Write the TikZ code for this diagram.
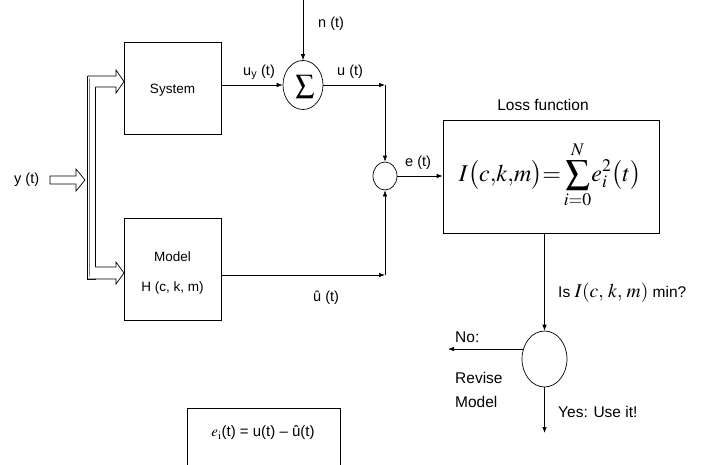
\documentclass[tikz,border=0pt]{standalone}
\usepackage{mathptmx}
\usepackage{amsmath}
\usepackage[no-math]{fontspec}
\setmainfont{Liberation Sans}
\usetikzlibrary{arrows.meta,shapes.geometric}
\tikzset{
  arr/.style={-{Latex[length=6pt,width=4.5pt]}, line width=0.7pt},
  ln/.style={line width=0.7pt},
  blk/.style={draw, line width=0.7pt, rectangle, inner sep=0pt},
  ell/.style={draw, line width=0.7pt, ellipse, inner sep=0pt},
  hollow/.style={draw, line width=0.7pt, fill=white},
  lbl/.style={font=\fontsize{14.5}{16}\selectfont, inner sep=0pt, anchor=west},
  rlbl/.style={font=\fontsize{15.5}{17}\selectfont, inner sep=0pt, anchor=west},
  btxt/.style={font=\fontsize{13.5}{15}\selectfont, inner sep=0pt},
}
\begin{document}
\begin{tikzpicture}[x=1pt,y=-1pt]
\clip (0,0) rectangle (705,464);
\fill[white] (0,0) rectangle (705,464);

% blocks
\node[blk, minimum width=97pt, minimum height=92pt] (sys) at (172.5,88) {};
\node[btxt] (systxt) at (172.5,90) {System};
\node[blk, minimum width=97pt, minimum height=102pt] (mod) at (172.5,269) {};
\node[btxt] (modtxt1) at (172.5,257) {Model};
\node[btxt] (modtxt2) at (172.5,288) {H (c, k, m)};

% distribution bar
\node[blk, fill=white, minimum width=8pt, minimum height=203pt] (bar) at (91.5,177.5) {};
\draw[gray, line width=1pt] (89.5,77) -- (89.5,278);

% hollow arrows
\draw[hollow] (88,76) -- (116,76) -- (116,70) -- (124,81.5) -- (116,93) -- (116,87) -- (95.5,87);
\draw[hollow] (95.5,267) -- (116,267) -- (116,262) -- (124,273) -- (116,284) -- (116,279) -- (88,279);
\draw[hollow] (50,176) -- (76,176) -- (76,169) -- (85,180) -- (76,191) -- (76,184) -- (50,184) -- cycle;
\node[lbl] (ylbl) at (14,180) {y (t)};

% sum junction
\node[ell, minimum width=40pt, minimum height=49pt] (sum) at (303,85) {};
\node[inner sep=0pt] (sumsym) at (305,87) {\fontsize{27}{30}\selectfont$\sum$};
\coordinate (ntop) at (303,0);
\draw[arr] (ntop) -- (sum.north);
\node[lbl] (nlbl) at (318,24) {n (t)};
\draw[arr] (sys.east |- sum) -- (sum.west);
\node[lbl] (uylbl) at (243,72) {u\textsubscript{y} (t)};

% comparison junction
\node[ell, minimum width=24pt, minimum height=28pt] (cmp) at (385,176) {};
\coordinate (ujn) at (385,85);
\coordinate (uhjn) at (385,275);
\draw[arr] (sum.east) -- (ujn);
\draw[arr] (ujn) -- (cmp.north);
\node[lbl] (ulbl) at (337,72) {u (t)};
\draw[arr] (mod.east |- uhjn) -- (uhjn);
\draw[arr] (uhjn) -- (cmp.south);
\node[lbl] (uhlbl) at (313,298) {û (t)};

% loss function
\node[blk, minimum width=216pt, minimum height=113pt] (loss) at (551,176.5) {};
\node[inner sep=0pt] (losslbl) at (543,105) {\fontsize{15.5}{17}\selectfont Loss function};
\node[inner sep=0pt] (formula) at (550,175) {\fontsize{24}{32}\selectfont$\displaystyle I\bigl(c{,}k{,}m\bigr)\mathord{=}\sum_{i=0}^{N}\!e_i^2\bigl(t\bigr)$};
\draw[arr] (cmp.east) -- (loss.west |- cmp);
\node[lbl] (elbl) at (405,163) {e (t)};

% decision
\node[ell, minimum width=45pt, minimum height=56pt] (dec) at (544.5,359) {};
\draw[arr] (loss.south -| dec) -- (dec.north);
\node[rlbl] (islbl) at (558,293) {Is {\fontsize{19.5}{21}\selectfont$I(c,\,k,\,m)$} min?};
\coordinate (noend) at (448,349);
\draw[arr] (dec.155) -- (dec.155 -| noend);
\node[rlbl] (nolbl) at (455,337) {No:};
\node[rlbl] (revlbl) at (455,378) {Revise};
\node[rlbl] (mlbl) at (455,402) {Model};
\coordinate (yesend) at (544.5,433);
\draw[arr] (dec.south) -- (yesend);
\node[rlbl] (yeslbl) at (558,412) {Yes: Use it!};

% bottom formula box
\draw[ln] (187,470) -- (187,408) -- (340,408) -- (340,470);
\node[inner sep=0pt] (eqn) at (263,433) {\fontsize{15}{17}\selectfont$e_{\mathrm{i}}$(t) = u(t) – û(t)};
\end{tikzpicture}
\end{document}
